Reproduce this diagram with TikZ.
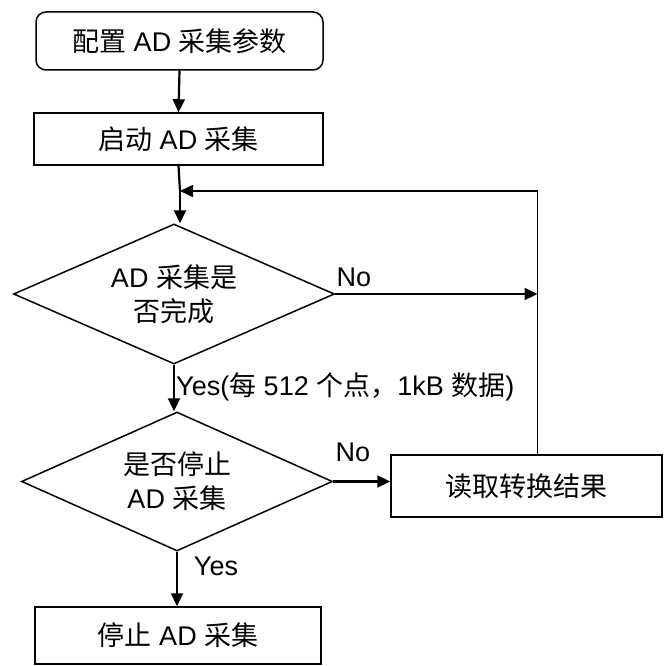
\documentclass[tikz,border=0pt]{standalone}
\usepackage{fontspec}
\setmainfont{Liberation Sans}
\newfontfamily\cjkfont{Noto Sans CJK SC}
\newcommand{\zh}[1]{{\cjkfont #1}}
\usetikzlibrary{shapes.geometric,arrows.meta}
\begin{document}
\begin{tikzpicture}[x=1pt,y=-1pt,
  every node/.style={font=\fontsize{27}{34}\selectfont},
  boxstyle/.style={draw,line width=1.5pt,inner sep=0pt,align=center},
  decision/.style={draw,diamond,line width=1.5pt,inner sep=0pt,align=center,aspect=2.3},
  conn/.style={line width=2.2pt,-{Triangle[length=13pt,width=12pt]}},
  loopline/.style={line width=1.5pt},
  lbl/.style={inner sep=0pt}]
\useasboundingbox (0,0) rectangle (669,666);
\fill[white] (0,0) rectangle (669,666);

\node[boxstyle,rounded corners=10pt,minimum width=287pt,minimum height=58pt] (b1) at (179.5,41) {\zh{配置} AD \zh{采集参数}};
\node[boxstyle,minimum width=289pt,minimum height=52pt] (b2) at (178.5,139) {\zh{启动} AD \zh{采集}};
\node[decision,minimum width=321pt,minimum height=140pt] (d1) at (174,294) {AD \zh{采集是}\\\zh{否完成}};
\node[decision,minimum width=311pt,minimum height=139pt] (d2) at (177,481.5) {\zh{是否停止}\\AD \zh{采集}};
\node[boxstyle,minimum width=271pt,minimum height=62pt] (rd) at (526.5,486) {\zh{读取转换结果}};
\node[boxstyle,minimum width=286pt,minimum height=57pt] (b3) at (178,635.5) {\zh{停止} AD \zh{采集}};

\coordinate (j) at (180,191);
\coordinate (k) at (537.5,294);

\draw[conn] (b1.south) -- (b2.north);
\draw[line width=2.2pt] (b2.south) -- (j);
\draw[conn] (j) -- (j |- d1.north);
\draw[loopline,-{Triangle[length=13pt,width=12pt]}] (rd.north -| k) -- (k |- j) -- (j);
\draw[conn] (d1.east) -- (k);
\draw[conn] (d1.south) -- (d2.north -| d1.south);
\draw[conn] (d2.east) -- (d2.east -| rd.west);
\draw[conn] (d2.south) -- (b3.north -| d2.south);

\node[lbl,anchor=center] (no1) at (354,277) {No};
\node[lbl,anchor=center] (no2) at (353,452) {No};
\node[lbl,anchor=west] (y1) at (176,387) {Yes(\zh{每} 512 \zh{个点，}1kB \zh{数据})};
\node[lbl,anchor=center] (y2) at (216,566) {Yes};
\end{tikzpicture}
\end{document}
